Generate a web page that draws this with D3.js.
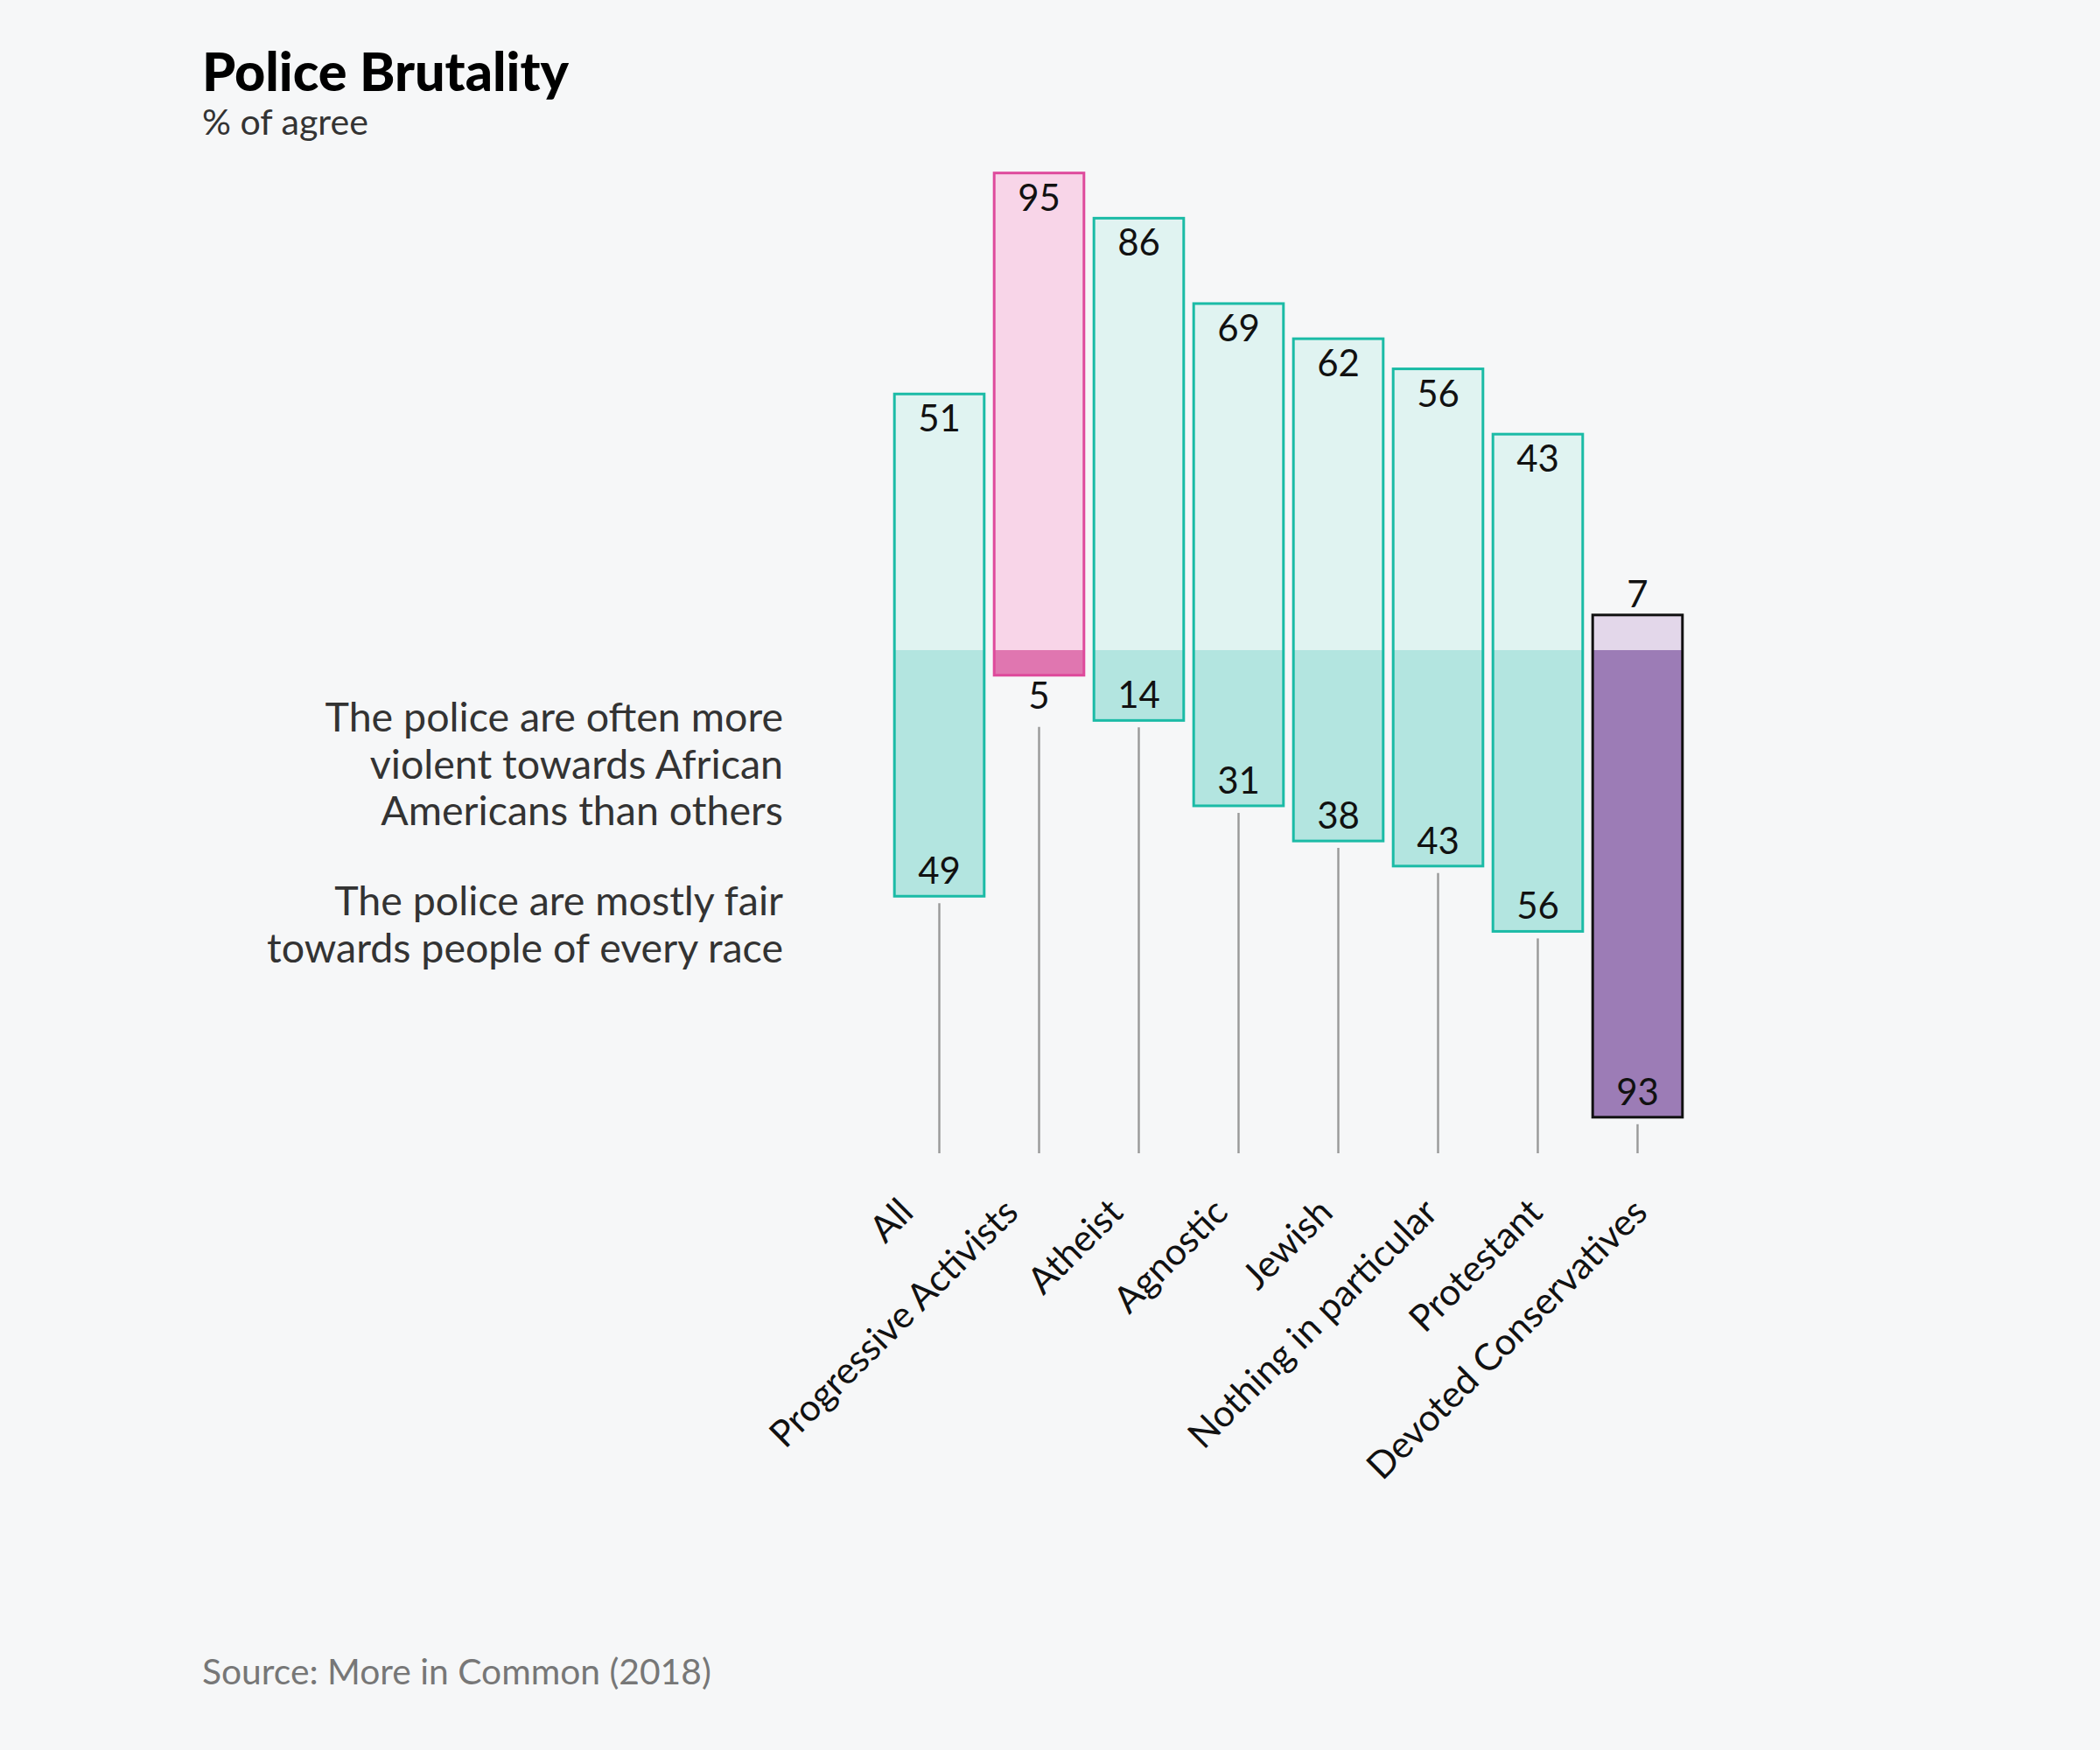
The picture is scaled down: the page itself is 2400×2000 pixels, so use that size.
<!DOCTYPE html>
<html>
<head>
<meta charset="utf-8">
<script src="https://cdn.jsdelivr.net/npm/d3@7"></script>
<style>
  body { margin: 0; background: #f6f7f8; }
  svg { display: block; }
  text { font-family: Lato, "Open Sans", sans-serif; }
</style>
</head>
<body>
<svg id="chart" width="2400" height="2000"></svg>
<script>
// data
const categories = ["All", "Progressive Activists", "Atheist", "Agnostic", "Jewish",
                    "Nothing in particular", "Protestant", "Devoted Conservatives"];
const violent = [51, 95, 86, 69, 62, 56, 43, 7];   // "often more violent..."
const fair = [49, 5, 14, 31, 38, 43, 56, 93];      // "mostly fair..."
const legendTop = ["The police are often more", "violent towards African", "Americans than others"];
const legendBottom = ["The police are mostly fair", "towards people of every race"];

const width = 2400, height = 2000;
const svg = d3.select("#chart");

svg.append("rect").attr("width", width).attr("height", height).attr("fill", "#f6f7f8");

// colours per group
const strokeColor = d3.scaleOrdinal().domain(categories)
    .range(["#1bbba6", "#de4a9c", "#1bbba6", "#1bbba6", "#1bbba6", "#1bbba6", "#1bbba6", "#111111"]);
const lightColor = d3.scaleOrdinal().domain(categories)
    .range(["#e0f3f1", "#f8d5e8", "#e0f3f1", "#e0f3f1", "#e0f3f1", "#e0f3f1", "#e0f3f1", "#e3d7ea"]);
const darkColor = d3.scaleOrdinal().domain(categories)
    .range(["#b3e5e0", "#e076b0", "#b3e5e0", "#b3e5e0", "#b3e5e0", "#b3e5e0", "#b3e5e0", "#9c7cb6"]);

// scales
const x = d3.scaleBand()
    .domain(categories)
    .range([1016.5, 1928.5])
    .paddingInner(0.1)
    .paddingOuter(0.05);

const y = d3.scaleLinear()
    .domain([-100, 100])
    .range([1317, 169]);

// rotated labels sit on a slightly wider spacing than the bars
const xLabel = d3.scalePoint()
    .domain(categories)
    .range([1046, 1885]);

// helper: scale a font so a sample string gets a given width
function fitSize(sample, target, base, weight) {
    const t = svg.append("text").attr("font-size", base).attr("font-weight", weight || 400).text(sample);
    const w = t.node().getComputedTextLength();
    t.remove();
    return base * target / w;
}

const rows = categories.map((c, i) => ({ cat: c, top: violent[i], bottom: fair[i] }));

const bars = svg.append("g").selectAll("g")
    .data(rows)
    .enter()
    .append("g");

// gray stems under each bar
bars.append("line")
    .attr("x1", d => x(d.cat) + x.bandwidth() / 2)
    .attr("x2", d => x(d.cat) + x.bandwidth() / 2)
    .attr("y1", d => y(-d.bottom) + (d.bottom < 10 ? 59 : 8))
    .attr("y2", y(-100) + 1)
    .attr("stroke", "#999")
    .attr("stroke-width", 2.4);

// upper (light) part
bars.append("rect")
    .attr("x", d => x(d.cat))
    .attr("y", d => y(d.top))
    .attr("width", x.bandwidth())
    .attr("height", d => y(0) - y(d.top))
    .attr("fill", d => lightColor(d.cat));

// lower (dark) part
bars.append("rect")
    .attr("x", d => x(d.cat))
    .attr("y", y(0))
    .attr("width", x.bandwidth())
    .attr("height", d => y(-d.bottom) - y(0))
    .attr("fill", d => darkColor(d.cat));

// outline
bars.append("rect")
    .attr("x", d => x(d.cat))
    .attr("y", d => y(d.top))
    .attr("width", x.bandwidth())
    .attr("height", d => y(-d.bottom) - y(d.top))
    .attr("fill", "none")
    .attr("stroke", d => strokeColor(d.cat))
    .attr("stroke-width", 3);

const valueSize = 42;

bars.append("text")
    .attr("x", d => x(d.cat) + x.bandwidth() / 2)
    .attr("y", d => d.top < 10 ? y(d.top) - 9 : y(d.top) + 43)
    .attr("text-anchor", "middle")
    .attr("font-size", valueSize)
    .attr("fill", "#111")
    .text(d => d.top);

bars.append("text")
    .attr("x", d => x(d.cat) + x.bandwidth() / 2)
    .attr("y", d => d.bottom < 10 ? y(-d.bottom) + 38 : y(-d.bottom) - 14)
    .attr("text-anchor", "middle")
    .attr("font-size", valueSize)
    .attr("fill", "#111")
    .text(d => d.bottom);

// category labels, rotated
const labelSize = fitSize("Devoted Conservatives", 432, 40);
svg.append("g").selectAll("text")
    .data(categories)
    .enter()
    .append("text")
    .attr("transform", d => `translate(${xLabel(d)},1388) rotate(-45)`)
    .attr("text-anchor", "end")
    .attr("font-size", labelSize)
    .attr("fill", "#111")
    .text(d => d);

// legend text on the left
const legendSize = fitSize("towards people of every race", 590, 44);
const legend = svg.append("g").attr("fill", "#333").attr("font-size", legendSize).attr("text-anchor", "end");
legendTop.forEach((line, i) => {
    legend.append("text").attr("x", 895).attr("y", 836 + i * 53.5).text(line);
});
legendBottom.forEach((line, i) => {
    legend.append("text").attr("x", 895).attr("y", 1046 + i * 53.5).text(line);
});

// title, subtitle, source
svg.append("text")
    .attr("x", 231).attr("y", 104)
    .attr("font-size", fitSize("Police Brutality", 419, 60, 900))
    .attr("font-weight", 900)
    .attr("fill", "#000")
    .text("Police Brutality");

svg.append("text")
    .attr("x", 231).attr("y", 154)
    .attr("font-size", fitSize("% of agree", 190, 38))
    .attr("fill", "#333")
    .text("% of agree");

svg.append("text")
    .attr("x", 231).attr("y", 1925)
    .attr("font-size", fitSize("Source: More in Common (2018)", 582, 38))
    .attr("fill", "#777")
    .text("Source: More in Common (2018)");
</script>
</body>
</html>
